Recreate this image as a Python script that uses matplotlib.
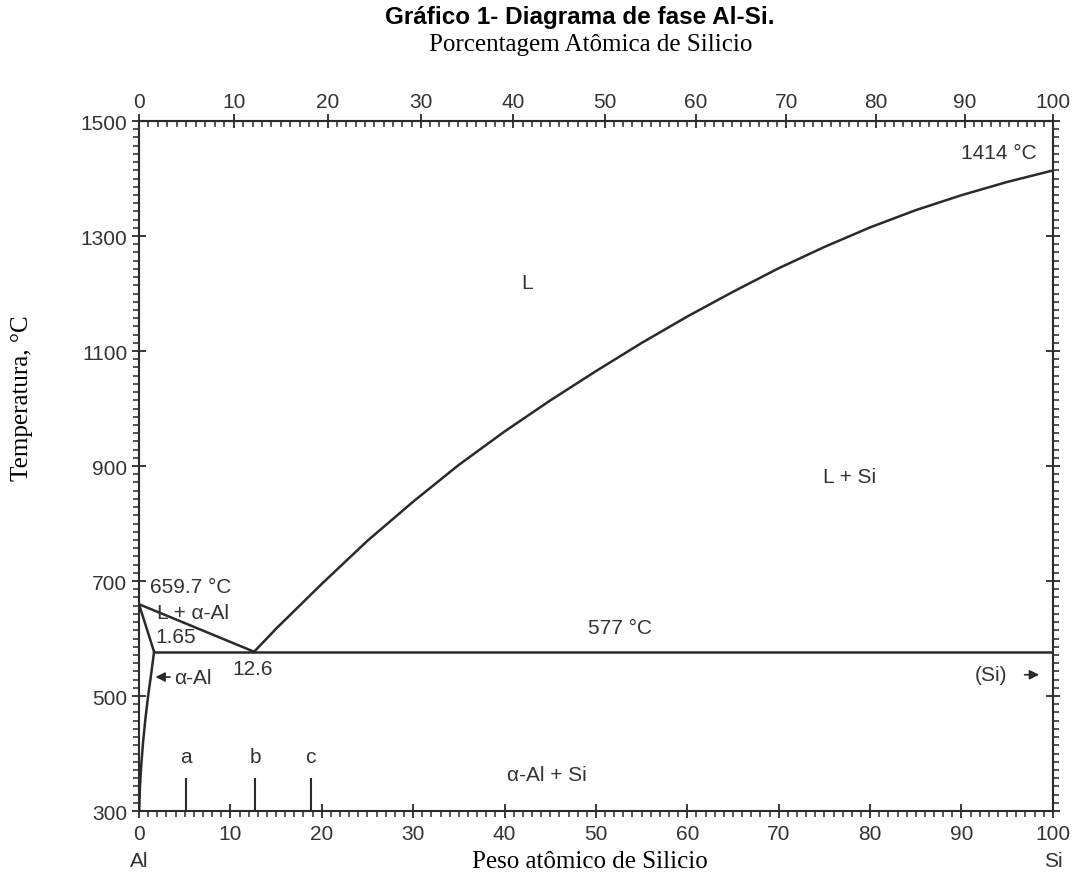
import matplotlib.pyplot as plt
import numpy as np
from matplotlib.ticker import MultipleLocator, AutoMinorLocator

# weight % Si -> temperature (C)
liq_si_wt = [12.6, 15, 20, 25, 30, 35, 40, 45, 50, 55, 60, 65, 70, 75, 80, 85, 90, 95, 100]
liq_si_T = [577, 617, 695, 770, 838, 902, 960, 1014, 1065, 1114, 1160, 1203, 1244, 1281,
            1315, 1345, 1371, 1394, 1414]

liq_al_wt = [0, 12.6]
liq_al_T = [659.7, 577]

sol_al_wt = [0, 1.65]
sol_al_T = [659.7, 577]

solvus_wt = [1.65, 1.35, 1.0, 0.7, 0.45, 0.25, 0.1, 0.03]
solvus_T = [577, 540, 500, 460, 420, 380, 340, 300]

eut_wt = [1.65, 100]
eut_T = [577, 577]

marks = ["a", "b", "c"]
marks_wt = [5.1, 12.7, 18.8]

M_AL, M_SI = 26.982, 28.086


def wt_to_at(w):
    w = np.asarray(w, dtype=float)
    a = w / M_SI
    b = (100 - w) / M_AL
    return 100 * a / (a + b)


def at_to_wt(x):
    x = np.asarray(x, dtype=float)
    a = x * M_SI
    b = (100 - x) * M_AL
    return 100 * a / (a + b)


sans = "Liberation Sans"
serif = "Liberation Serif"
ink = "#2a2a2a"
txt = "#333333"

fig = plt.figure(figsize=(10.79, 8.79), dpi=100)
ax = fig.add_axes([0.1288, 0.0762, 0.847, 0.785])

lw = 1.8
ax.plot(liq_si_wt, liq_si_T, color=ink, lw=lw)
ax.plot(liq_al_wt, liq_al_T, color=ink, lw=lw)
ax.plot(sol_al_wt, sol_al_T, color=ink, lw=lw)
ax.plot(solvus_wt, solvus_T, color=ink, lw=lw)
ax.plot(eut_wt, eut_T, color=ink, lw=lw)
for m, w in zip(marks, marks_wt):
    ax.plot([w, w], [300, 356], color=ink, lw=1.5)
    ax.text(w, 394, m, ha="center", va="center", fontsize=15, family=sans, color=txt)

ax.set_xlim(0, 100)
ax.set_ylim(300, 1500)
ax.set_xticks(np.arange(0, 101, 10))
ax.set_yticks(np.arange(300, 1501, 200))
ax.xaxis.set_minor_locator(MultipleLocator(1))
ax.yaxis.set_minor_locator(AutoMinorLocator(14))
ax.tick_params(which="major", direction="inout", length=10, width=1.3, color=ink,
               labelsize=15, labelcolor=txt, right=True)
ax.tick_params(which="minor", direction="out", length=4, width=1.1, color=ink, right=True)
ax.tick_params(axis="x", which="major", pad=4)
for lab in ax.get_xticklabels() + ax.get_yticklabels():
    lab.set_family(sans)
for s in ax.spines.values():
    s.set_color(ink)
    s.set_linewidth(1.5)

top = ax.secondary_xaxis("top", functions=(wt_to_at, at_to_wt))
top.set_xticks(np.arange(0, 101, 10))
top.xaxis.set_minor_locator(MultipleLocator(1))
top.tick_params(which="major", direction="inout", length=10, width=1.3, color=ink,
                labelsize=15, labelcolor=txt, pad=2)
top.tick_params(which="minor", direction="in", length=4, width=1.1, color=ink)
for lab in top.get_xticklabels():
    lab.set_family(sans)
top.spines["top"].set_color(ink)
top.spines["top"].set_linewidth(1.5)

# annotations
ax.text(94.1, 1446, "1414 °C", ha="center", va="center", fontsize=15, family=sans, color=txt)
ax.text(42.5, 1220, "L", ha="center", va="center", fontsize=15, family=sans, color=txt)
ax.text(77.8, 881, "L + Si", ha="center", va="center", fontsize=15, family=sans, color=txt)
ax.text(1.2, 690, "659.7 °C", ha="left", va="center", fontsize=15, family=sans, color=txt)
ax.text(2.0, 646, "L + α-Al", ha="left", va="center", fontsize=15, family=sans, color=txt)
ax.text(1.75, 603, "1.65", ha="left", va="center", fontsize=15, family=sans, color=txt)
ax.text(10.2, 547, "12.6", ha="left", va="center", fontsize=15, family=sans, color=txt)
ax.text(52.6, 620, "577 °C", ha="center", va="center", fontsize=15, family=sans, color=txt)
ax.text(3.9, 533, "α-Al", ha="left", va="center", fontsize=15, family=sans, color=txt)
ax.annotate("", xy=(1.5, 533), xytext=(3.7, 533),
            arrowprops=dict(arrowstyle="-|>", color=ink, lw=1.2, mutation_scale=14))
ax.text(91.5, 537, "(Si)", ha="left", va="center", fontsize=15, family=sans, color=txt)
ax.annotate("", xy=(98.8, 537), xytext=(96.6, 537),
            arrowprops=dict(arrowstyle="-|>", color=ink, lw=1.2, mutation_scale=14))
ax.text(44.6, 364, "α-Al + Si", ha="center", va="center", fontsize=15, family=sans, color=txt)

fig.text(0.537, 0.98, "Gráfico 1- Diagrama de fase Al-Si.", ha="center", va="center",
         fontsize=17.5, fontweight="bold", family=sans)
fig.text(0.547, 0.949, "Porcentagem Atômica de Silicio", ha="center", va="center",
         fontsize=18, family=serif)
fig.text(0.547, 1 - 862 / 879, "Peso atômico de Silicio", ha="center", va="center",
         fontsize=18, family=serif)
fig.text(139 / 1079, 1 - 862 / 879, "Al", ha="center", va="center", fontsize=15,
         family=sans, color=txt)
fig.text(1053 / 1079, 1 - 862 / 879, "Si", ha="center", va="center", fontsize=15,
         family=sans, color=txt)
fig.text(22 / 1079, 1 - 398 / 879, "Temperatura, °C", ha="center", va="center",
         rotation=90, fontsize=18, family=serif)

fig.savefig("out.png", dpi=100)
